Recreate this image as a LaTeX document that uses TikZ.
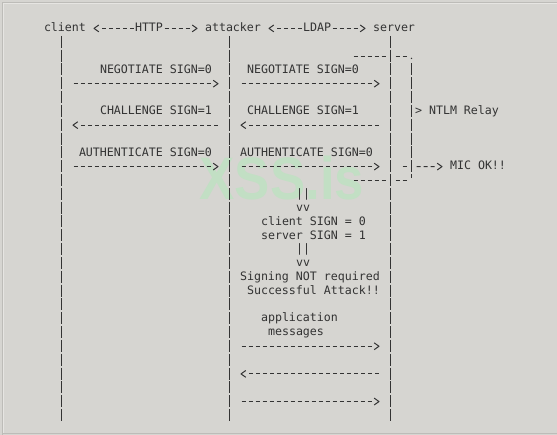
\documentclass[tikz,border=0pt]{standalone}
\usepackage{fontspec}
\newfontfamily\asciifont{DejaVu Sans Mono}
\newfontfamily\wmfont{Liberation Sans}
\definecolor{bgc}{HTML}{D6D5D1}
\definecolor{ink}{HTML}{333333}
\definecolor{wmc}{HTML}{C2DFC4}
\definecolor{edgedark}{HTML}{BDBCB8}
\definecolor{edgelight}{HTML}{E6E5E2}
\newcommand{\CX}[1]{44+7*(#1)}
\newcommand{\BY}[1]{31.7+13.82*(#1)}
\pgfdeclarearrow{
  name = AsciiTip,
  setup code = {
    \pgfarrowssettipend{0pt}
    \pgfarrowssetlineend{-4.5pt}
    \pgfarrowssetbackend{-3.75pt}
  },
  drawing code = {
    \pgfsetdash{}{0pt}
    \pgfsetroundjoin
    \pgfpathmoveto{\pgfqpoint{-3.6pt}{2.55pt}}
    \pgfpathlineto{\pgfqpoint{0pt}{0pt}}
    \pgfpathlineto{\pgfqpoint{-3.6pt}{-2.55pt}}
    \pgfusepathqstroke
  }
}
\tikzset{
  txt/.style={font=\asciifont\fontsize{8.72pt}{10pt}\selectfont, text=ink,
    inner sep=0pt, outer sep=0pt, anchor=base west,
    text height=6.45pt, text depth=1.5pt},
  msg/.style={draw=ink, line width=0.75pt, dash pattern=on 3pt off 2.25pt,
    arrows={-AsciiTip}, shorten <=9pt, shorten >=8.625pt},
  hdr/.style={msg, shorten <=1.125pt, shorten >=6pt},
  life/.style={draw=ink, line width=0.75pt, dash pattern=on 9pt off 1.365pt},
  dsh/.style={draw=ink, line width=0.75pt, dash pattern=on 3pt off 2.25pt},
  wm/.style={font=\wmfont\bfseries\fontsize{45pt}{50pt}\selectfont, text=wmc,
    inner sep=0pt, anchor=base west, xscale=0.88}
}
\begin{document}
\begin{tikzpicture}[x=0.75pt,y=-0.75pt]
\useasboundingbox (0,0) rectangle (557,435);
\fill[bgc] (0,0) rectangle (557,435);
\draw[edgedark, line width=0.75pt] (2.5,435) -- (2.5,2.5) -- (557,2.5);
\draw[edgelight, line width=0.75pt] (3.5,432.5) -- (3.5,3.5) -- (557,3.5);
\draw[edgedark, line width=0.75pt] (2.5,433.5) -- (557,433.5);

% watermark
\node[wm] (watermark) at (199.5,199.5) {XSS.is};

% header
\node[txt] (client) at ({\CX{0}},{\BY{0}}) {client};
\node[txt] (http) at ({\CX{13}},{\BY{0}}) {HTTP};
\node[txt] (attacker) at ({\CX{23}},{\BY{0}}) {attacker};
\node[txt] (ldap) at ({\CX{37}},{\BY{0}}) {LDAP};
\node[txt] (server) at ({\CX{47}},{\BY{0}}) {server};
\draw[hdr] (http.west) -- (client.east);
\draw[hdr] (http.east) -- (attacker.west);
\draw[hdr] (ldap.west) -- (attacker.east);
\draw[hdr] (ldap.east) -- (server.west);

% lifelines
\coordinate (cltop) at (61.5,35.82);  \coordinate (clbot) at (61.5,420.96);
\coordinate (attop) at (229.5,35.82); \coordinate (atbot) at (229.5,420.96);
\coordinate (svtop) at (390.5,35.82); \coordinate (svbot) at (390.5,420.96);
\draw[life] (cltop) -- (clbot);
\draw[life] (attop) -- (atbot);
\draw[life] (svtop) -- (svbot);

% row anchors on lifelines
\foreach \r in {4,7,10,23,25,27}{
  \coordinate (cl\r) at (61.5,{\BY{\r}-3.3});
  \coordinate (at\r) at (229.5,{\BY{\r}-3.3});
  \coordinate (sv\r) at (390.5,{\BY{\r}-3.3});
}

% NEGOTIATE
\node[txt] (neg1) at ({\CX{8}},{\BY{3}}) {NEGOTIATE SIGN=0};
\node[txt] (neg2) at ({\CX{29}},{\BY{3}}) {NEGOTIATE SIGN=0};
\draw[msg] (cl4) -- (at4);
\draw[msg] (at4) -- (sv4);

% CHALLENGE
\node[txt] (chal1) at ({\CX{8}},{\BY{6}}) {CHALLENGE SIGN=1};
\node[txt] (chal2) at ({\CX{29}},{\BY{6}}) {CHALLENGE SIGN=1};
\draw[msg] (at7) -- (cl7);
\draw[msg] (sv7) -- (at7);

% AUTHENTICATE
\node[txt] (auth1) at ({\CX{5}},{\BY{9}}) {AUTHENTICATE SIGN=0};
\node[txt] (auth2) at ({\CX{28}},{\BY{9}}) {AUTHENTICATE SIGN=0};
\draw[msg] (cl10) -- (at10);
\draw[msg] (at10) -- (sv10);

% NTLM relay bracket
\coordinate (brtl) at (353.5,{\BY{2}-3.3});
\coordinate (brtm) at (385.5,{\BY{2}-3.3});
\coordinate (brtn) at (395.5,{\BY{2}-3.3});
\coordinate (brtr) at (406.5,{\BY{2}-3.3});
\draw[dsh] (brtl) -- (brtm);
\draw[dsh] (brtn) -- (brtr);
\fill[ink] (411.5,{\BY{2}-0.9}) circle[radius=0.6pt];
\coordinate (brtop) at (411.5,{\BY{3}-9.7});
\coordinate (brbot) at (411.5,{\BY{10}+2.3});
\draw[life] (brtop) -- (brbot);
\draw[ink, line width=0.75pt] (411.5,{\BY{11}-9.7}) -- (411.5,{\BY{11}-5.7});
\coordinate (brbl) at (353.5,{\BY{11}-3.3});
\coordinate (brbm) at (385.5,{\BY{11}-3.3});
\coordinate (brbn) at (395.5,{\BY{11}-3.3});
\coordinate (brbr) at (406.5,{\BY{11}-3.3});
\draw[dsh] (brbl) -- (brbm);
\draw[dsh] (brbn) -- (brbr);
\node[txt] (relay) at ({\CX{53}},{\BY{6}}) {> NTLM Relay};

% MIC
\node[txt] (mic) at ({\CX{58}},{\BY{10}}) {MIC OK!!};
\draw[ink, line width=0.75pt] (402.5,{\BY{10}-3.3}) -- (406.5,{\BY{10}-3.3});
\coordinate (br10) at (411.5,{\BY{10}-3.3});
\draw[msg, shorten <=3.75pt, shorten >=6pt] (br10) -- (mic.west);

% attack reasoning
\node[txt] (bars1) at ({\CX{36}},{\BY{12}}) {||};
\node[txt] (vee1) at ({\CX{36}},{\BY{13}}) {vv};
\node[txt] (csign) at ({\CX{31}},{\BY{14}}) {client SIGN = 0};
\node[txt] (ssign) at ({\CX{31}},{\BY{15}}) {server SIGN = 1};
\node[txt] (bars2) at ({\CX{36}},{\BY{16}}) {||};
\node[txt] (vee2) at ({\CX{36}},{\BY{17}}) {vv};
\node[txt] (notreq) at ({\CX{28}},{\BY{18}}) {Signing NOT required};
\node[txt] (success) at ({\CX{29}},{\BY{19}}) {Successful Attack!!};

% application messages
\node[txt] (app) at ({\CX{31}},{\BY{21}}) {application};
\node[txt] (msgs) at ({\CX{32}},{\BY{22}}) {messages};
\draw[msg] (at23) -- (sv23);
\draw[msg] (sv25) -- (at25);
\draw[msg] (at27) -- (sv27);
\end{tikzpicture}
\end{document}
